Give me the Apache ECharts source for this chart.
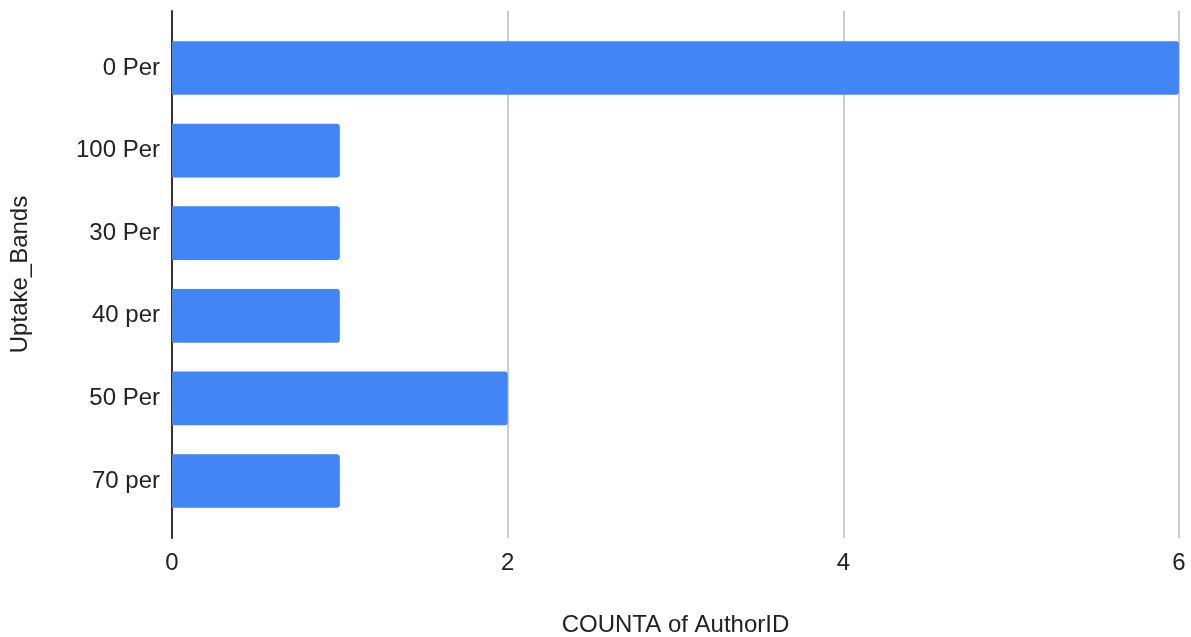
<!DOCTYPE html>
<html>
<head>
<meta charset="utf-8">
<script src="https://cdn.jsdelivr.net/npm/echarts@6/dist/echarts.min.js"></script>
<style>
  html, body { margin: 0; padding: 0; background: #fff; }
  #chart { width: 1191px; height: 637px; }
</style>
</head>
<body>
<div id="chart"></div>
<script>
// Uptake bands and the number of authors in each
const categories = ['0 Per', '100 Per', '30 Per', '40 per', '50 Per', '70 per'];
const counts = [6, 1, 1, 1, 2, 1];
const xTicks = { min: 0, max: 6, interval: 2 };
const xAxisTitle = 'COUNTA of AuthorID';
const yAxisTitle = 'Uptake_Bands';

const font = 'Arial, "Liberation Sans", sans-serif';
const fontSize = 24;
const chart = echarts.init(document.getElementById('chart'), null, { renderer: 'canvas' });

chart.setOption({
  animation: false,
  backgroundColor: '#ffffff',
  grid: [
    // frame grid: gridlines, axis line, titles
    { left: 172, right: 12, top: 11, height: 527, outerBoundsMode: 'none', containLabel: false },
    // bar grid: category bands
    { left: 172, right: 12, top: 26.7, height: 495.6, outerBoundsMode: 'none', containLabel: false }
  ],
  xAxis: [
    {
      gridIndex: 0, type: 'value',
      min: xTicks.min, max: xTicks.max, interval: xTicks.interval,
      axisLine: { show: false }, axisTick: { show: false },
      axisLabel: { color: '#222', fontSize: fontSize, fontFamily: font, margin: 13 },
      splitLine: { show: true, lineStyle: { color: '#cccccc', width: 2 } },
      name: xAxisTitle, nameLocation: 'middle', nameGap: 75,
      nameTextStyle: { color: '#222', fontSize: fontSize, fontFamily: font }
    },
    {
      gridIndex: 1, type: 'value',
      min: xTicks.min, max: xTicks.max, show: false
    }
  ],
  yAxis: [
    {
      gridIndex: 0, type: 'value', min: 0, max: 1,
      axisLine: { show: true, lineStyle: { color: '#333', width: 2 } },
      axisTick: { show: false }, axisLabel: { show: false }, splitLine: { show: false },
      name: yAxisTitle, nameLocation: 'middle', nameGap: 140, nameRotate: 90,
      nameTextStyle: { color: '#222', fontSize: fontSize, fontFamily: font }
    },
    {
      gridIndex: 1, type: 'category', inverse: true, data: categories,
      axisLine: { show: false }, axisTick: { show: false },
      axisLabel: { color: '#222', fontSize: fontSize, fontFamily: font, margin: 12 }
    }
  ],
  series: [{
    type: 'bar',
    xAxisIndex: 1, yAxisIndex: 1,
    data: counts,
    barCategoryGap: '35%',
    itemStyle: { color: '#4285f4', borderRadius: [0, 3, 3, 0] }
  }]
});
</script>
</body>
</html>
